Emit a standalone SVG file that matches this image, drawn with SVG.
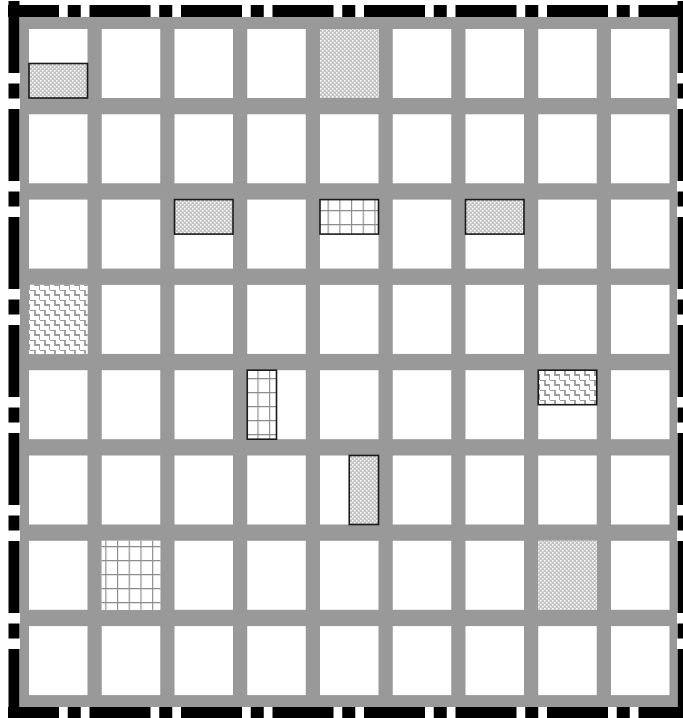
<svg xmlns="http://www.w3.org/2000/svg" width="683" height="718" viewBox="0 0 683 718">
<style>
.cell{fill:#fff}
.mk{stroke:#1a1a1a;stroke-width:1.6}
.bh{stroke:#000;stroke-width:12;fill:none;stroke-dasharray:61 8.75 13 8.75}
.bv{stroke:#000;stroke-width:11;fill:none;stroke-dasharray:72 10.5 15 10.5}
</style>
<defs>
<pattern id="dots" patternUnits="userSpaceOnUse" width="4" height="4">
<rect width="4" height="4" fill="#c4c4c4"/>
<rect x="0" y="0" width="1.5" height="1.5" fill="#fff"/>
<rect x="2" y="2" width="1.5" height="1.5" fill="#fff"/>
</pattern>
<pattern id="grid" patternUnits="userSpaceOnUse" width="11.7" height="14">
<rect width="11.7" height="14" fill="#fff"/>
<path d="M0.5 0V14M0 0.5H11.7" stroke="#8c8c8c" stroke-width="1.3" fill="none"/>
</pattern>
<pattern id="zig" patternUnits="userSpaceOnUse" width="10" height="10">
<rect width="10" height="10" fill="#fff"/>
<path d="M0 0H5V5H10V10" stroke="#9a9a9a" stroke-width="1.8" fill="none"/>
</pattern>
</defs>
<rect width="683" height="718" fill="#fff"/>
<g id="frame">
<rect x="20" y="17" width="657" height="690" fill="#999"/>
<line class="bh" x1="8" y1="11" x2="690" y2="11" stroke-dashoffset="10"/>
<line class="bh" x1="8" y1="713" x2="690" y2="713" stroke-dashoffset="10"/>
<line class="bv" x1="14" y1="1" x2="14" y2="718"/>
<line class="bv" x1="683" y1="1" x2="683" y2="718"/>
</g>
<g id="cells">
<g class="cell">
<rect x="29" y="29" width="58.5" height="69"/><rect x="101.75" y="29" width="58.5" height="69"/><rect x="174.5" y="29" width="58.5" height="69"/><rect x="247.25" y="29" width="58.5" height="69"/><rect x="320" y="29" width="58.5" height="69"/><rect x="392.75" y="29" width="58.5" height="69"/><rect x="465.5" y="29" width="58.5" height="69"/><rect x="538.25" y="29" width="58.5" height="69"/><rect x="611" y="29" width="58.5" height="69"/>
<rect x="29" y="114.3" width="58.5" height="69"/><rect x="101.75" y="114.3" width="58.5" height="69"/><rect x="174.5" y="114.3" width="58.5" height="69"/><rect x="247.25" y="114.3" width="58.5" height="69"/><rect x="320" y="114.3" width="58.5" height="69"/><rect x="392.75" y="114.3" width="58.5" height="69"/><rect x="465.5" y="114.3" width="58.5" height="69"/><rect x="538.25" y="114.3" width="58.5" height="69"/><rect x="611" y="114.3" width="58.5" height="69"/>
<rect x="29" y="199.6" width="58.5" height="69"/><rect x="101.75" y="199.6" width="58.5" height="69"/><rect x="174.5" y="199.6" width="58.5" height="69"/><rect x="247.25" y="199.6" width="58.5" height="69"/><rect x="320" y="199.6" width="58.5" height="69"/><rect x="392.75" y="199.6" width="58.5" height="69"/><rect x="465.5" y="199.6" width="58.5" height="69"/><rect x="538.25" y="199.6" width="58.5" height="69"/><rect x="611" y="199.6" width="58.5" height="69"/>
<rect x="29" y="284.9" width="58.5" height="69"/><rect x="101.75" y="284.9" width="58.5" height="69"/><rect x="174.5" y="284.9" width="58.5" height="69"/><rect x="247.25" y="284.9" width="58.5" height="69"/><rect x="320" y="284.9" width="58.5" height="69"/><rect x="392.75" y="284.9" width="58.5" height="69"/><rect x="465.5" y="284.9" width="58.5" height="69"/><rect x="538.25" y="284.9" width="58.5" height="69"/><rect x="611" y="284.9" width="58.5" height="69"/>
<rect x="29" y="370.2" width="58.5" height="69"/><rect x="101.75" y="370.2" width="58.5" height="69"/><rect x="174.5" y="370.2" width="58.5" height="69"/><rect x="247.25" y="370.2" width="58.5" height="69"/><rect x="320" y="370.2" width="58.5" height="69"/><rect x="392.75" y="370.2" width="58.5" height="69"/><rect x="465.5" y="370.2" width="58.5" height="69"/><rect x="538.25" y="370.2" width="58.5" height="69"/><rect x="611" y="370.2" width="58.5" height="69"/>
<rect x="29" y="455.5" width="58.5" height="69"/><rect x="101.75" y="455.5" width="58.5" height="69"/><rect x="174.5" y="455.5" width="58.5" height="69"/><rect x="247.25" y="455.5" width="58.5" height="69"/><rect x="320" y="455.5" width="58.5" height="69"/><rect x="392.75" y="455.5" width="58.5" height="69"/><rect x="465.5" y="455.5" width="58.5" height="69"/><rect x="538.25" y="455.5" width="58.5" height="69"/><rect x="611" y="455.5" width="58.5" height="69"/>
<rect x="29" y="540.8" width="58.5" height="69"/><rect x="101.75" y="540.8" width="58.5" height="69"/><rect x="174.5" y="540.8" width="58.5" height="69"/><rect x="247.25" y="540.8" width="58.5" height="69"/><rect x="320" y="540.8" width="58.5" height="69"/><rect x="392.75" y="540.8" width="58.5" height="69"/><rect x="465.5" y="540.8" width="58.5" height="69"/><rect x="538.25" y="540.8" width="58.5" height="69"/><rect x="611" y="540.8" width="58.5" height="69"/>
<rect x="29" y="626.1" width="58.5" height="69"/><rect x="101.75" y="626.1" width="58.5" height="69"/><rect x="174.5" y="626.1" width="58.5" height="69"/><rect x="247.25" y="626.1" width="58.5" height="69"/><rect x="320" y="626.1" width="58.5" height="69"/><rect x="392.75" y="626.1" width="58.5" height="69"/><rect x="465.5" y="626.1" width="58.5" height="69"/><rect x="538.25" y="626.1" width="58.5" height="69"/><rect x="611" y="626.1" width="58.5" height="69"/>
</g>
</g>
<g id="filled-cells">
<rect x="320" y="29" width="58.5" height="69" fill="url(#dots)"/>
<rect x="29" y="284.9" width="58.5" height="69" fill="url(#zig)"/>
<rect x="101.75" y="540.8" width="58.5" height="69" fill="url(#grid)"/>
<rect x="538.25" y="540.8" width="58.5" height="69" fill="url(#dots)"/>
</g>
<g id="marked">
<rect class="mk" x="29" y="63.5" width="58.5" height="34.5" fill="url(#dots)"/>
<rect class="mk" x="174.5" y="199.6" width="58.5" height="34.5" fill="url(#dots)"/>
<rect class="mk" x="320" y="199.6" width="58.5" height="34.5" fill="url(#grid)"/>
<rect class="mk" x="465.5" y="199.6" width="58.5" height="34.5" fill="url(#dots)"/>
<rect class="mk" x="247.25" y="370.2" width="29.25" height="69" fill="url(#grid)"/>
<rect class="mk" x="538.25" y="370.2" width="58.5" height="34.5" fill="url(#zig)"/>
<rect class="mk" x="349.25" y="455.5" width="29.25" height="69" fill="url(#dots)"/>
</g>
</svg>
